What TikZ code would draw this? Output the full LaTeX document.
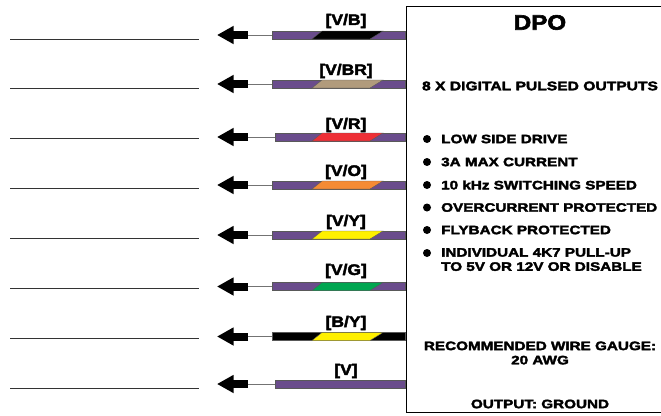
\documentclass[tikz,border=0pt]{standalone}
\usepackage{fontspec}
\setmainfont{Liberation Sans}[BoldFeatures={FakeBold=2.8,FakeStretch=1.25}]
\newfontfamily\labfont{Liberation Sans Bold}[FakeBold=2.8,FakeStretch=1.15]
\usetikzlibrary{arrows.meta}
\definecolor{wirev}{HTML}{6A4C8C}
\definecolor{wirebr}{HTML}{B19B7C}
\definecolor{wirer}{HTML}{EE2F36}
\definecolor{wireo}{HTML}{F58B34}
\definecolor{wirey}{HTML}{FFF000}
\definecolor{wireg}{HTML}{00A651}
\tikzset{
  x=1pt,y=-1pt,
  wirebar/.style={fill=#1,draw=black!65,line width=0.5pt,minimum height=8pt,inner sep=0pt,anchor=east},
  band/.style={fill=#1,draw=black!65,line width=0.4pt},
  lab/.style={font=\labfont\fontsize{15.2}{15.2}\selectfont,inner sep=0pt},
  txt/.style={font=\bfseries\fontsize{12.5}{14.2}\selectfont,inner sep=0pt,align=center},
  txtb/.style={font=\bfseries\fontsize{12.2}{14.2}\selectfont,inner sep=0pt,align=center},
  bull/.style={circle,fill=black,inner sep=0pt,minimum size=8pt},
  blockarrow/.style={line width=8pt,draw=black,-{Triangle[width=17pt,length=16.5pt,fill=black]}},
  thinwire/.style={draw=black!55,line width=1pt},
  extline/.style={draw=black!80,line width=0.7pt},
}
\begin{document}
\begin{tikzpicture}
\useasboundingbox (0,0) rectangle (661,415);
% box
\node[draw=black,line width=1pt,minimum width=262pt,minimum height=406pt,inner sep=0pt,anchor=north west] (box) at (405.5,6) {};
% wires
\foreach \i/\y/\ly/\tx/\tw/\base/\col/\name/\liney in {
 1/35/21/272/133/wirev/black/{[V/B]}/39,
 2/84/71/272/133/wirev/wirebr/{[V/BR]}/88.5,
 3/137/125/275/130/wirev/wirer/{[V/R]}/138,
 4/185/172/272/133/wirev/wireo/{[V/O]}/188,
 5/235/222/272/133/wirev/wirey/{[V/Y]}/238,
 6/286.5/271/272/133/wirev/wireg/{[V/G]}/288,
 7/336.5/323/272/133/black/wirey/{[B/Y]}/338}
{
  \node[wirebar=\base,minimum width=\tw pt] (bar\i) at (405,\y) {};
  \draw[band=\col] (312,\y+4) -- (322,\y-4) -- (383,\y-4) -- (370,\y+4) -- cycle;
  \node[lab] (lab\i) at (346,\ly) {\name};
  \coordinate (tail\i) at (248,\y);
  \coordinate (tip\i) at (217,\y);
  \draw[thinwire] (bar\i.west) -- (tail\i);
  \draw[blockarrow] (tail\i) -- (tip\i);
  \coordinate (la\i) at (10,\liney);
  \coordinate (lb\i) at (199,\liney);
  \draw[extline] (la\i) -- (lb\i);
}
\node[wirebar=wirev,minimum width=130pt] (bar8) at (405,384) {};
\node[lab] (lab8) at (346,371) {[V]};
\coordinate (tail8) at (248,384);
\coordinate (tip8) at (217,384);
\draw[thinwire] (bar8.west) -- (tail8);
\draw[blockarrow] (tail8) -- (tip8);
\coordinate (la8) at (10,388);
\coordinate (lb8) at (199,388);
\draw[extline] (la8) -- (lb8);
% text
\node[font=\labfont\fontsize{21}{21}\selectfont,inner sep=0pt] (title) at (540,22.5) {DPO};
\node[txt] (sub) at (540,86) {8 X DIGITAL PULSED OUTPUTS};
\foreach \i/\y/\t in {1/139/LOW SIDE DRIVE,2/162/3A MAX CURRENT,3/185/10 kHz SWITCHING SPEED,4/207.5/OVERCURRENT PROTECTED,5/230/FLYBACK PROTECTED}{
  \node[bull] (b\i) at (427,\y) {};
  \node[txtb,anchor=west] (t\i) at (441,\y) {\t};
}
\node[bull] (b6) at (427,253) {};
\node[txtb,anchor=north west,align=left] (t6) at (441,248) {INDIVIDUAL 4K7 PULL-UP\\TO 5V OR 12V OR DISABLE};
\node[txtb] (gauge) at (540,353) {RECOMMENDED WIRE GAUGE:\\20 AWG};
\node[txtb] (gnd) at (540,404) {OUTPUT: GROUND};
\end{tikzpicture}
\end{document}
